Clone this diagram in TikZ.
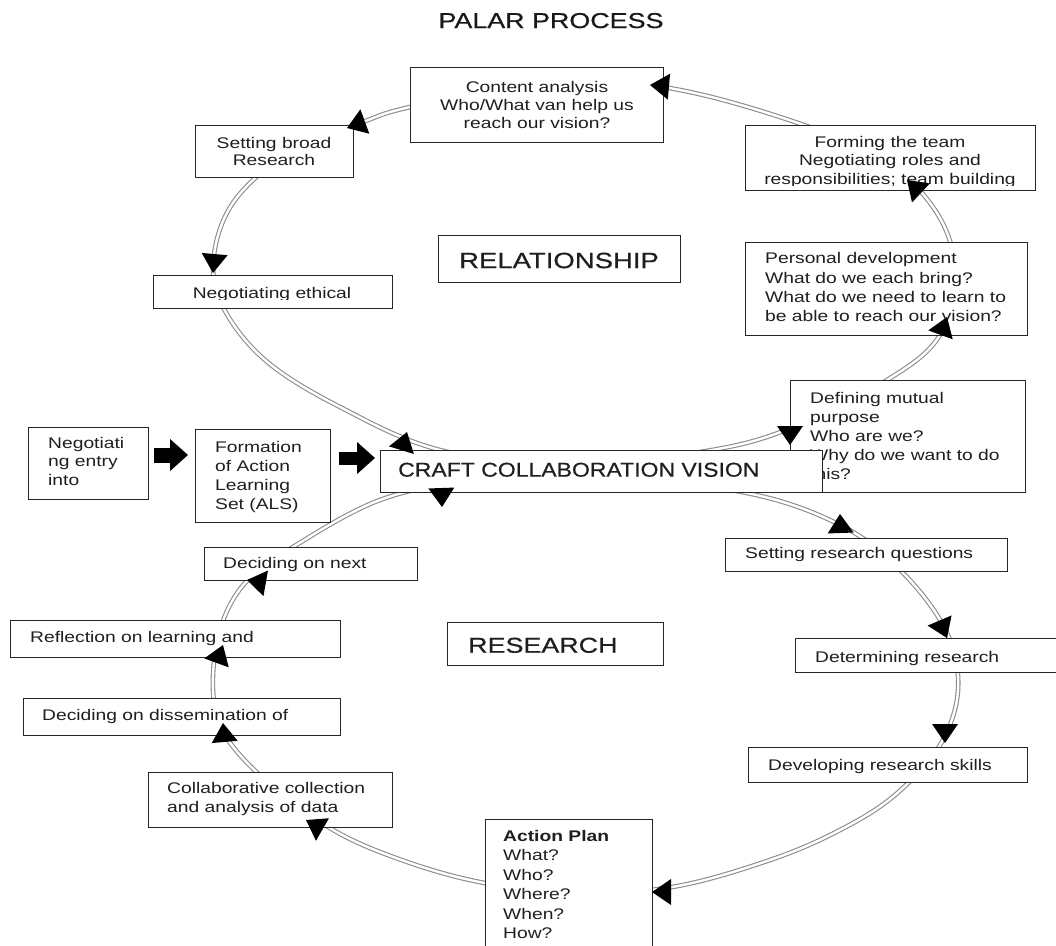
\documentclass[tikz,border=0pt]{standalone}
\usepackage{fontspec}
\setmainfont{Liberation Sans}[FakeStretch=1.25]
\newfontfamily\labelfont{Liberation Sans}[FakeStretch=1.25, FakeBold=0.6]
\newfontfamily\craftfont{Liberation Sans}[FakeStretch=1.15, FakeBold=0.5]
\usetikzlibrary{arrows.meta,calc}

\tikzset{
  ring/.style={draw=black!45, line width=1.1pt, double=white, double distance=2.4pt},
  box/.style={draw=black!85, line width=1.4pt, fill=white, inner sep=0pt},
  txt/.style={inner sep=0pt, text=black!88, align=left, font=\fontsize{15.4}{19}\selectfont},
  bigarrow/.style={draw=black, -{Triangle[length=18pt,width=31pt]}},
}

% box from (x1,y1) to (x2,y2) with its text clipped at height #9
% #1 name, #2 x1, #3 y1, #4 x2, #5 y2, #6 text options, #7 text position, #8 text, #9 clip bottom
\newcommand\pbx[9]{%
  \node[box, anchor=north west, minimum width=#4-#2, minimum height=#5-#3] (#1) at (#2,#3) {};
  \begin{scope}
    \clip (#2,#3) rectangle (#4,#9);
    \node[txt, #6] (#1-t) at (#7) {#8};
  \end{scope}}

% filled triangular arrowhead: tip point and pointing angle
\newcommand\arrowtri[3]{%
  \fill[black] (#1,#2) -- ++({-19*cos(#3)+13*sin(#3)},{-19*sin(#3)-13*cos(#3)})
    -- ++({-26*sin(#3)},{26*cos(#3)}) -- cycle;}

\begin{document}
\begin{tikzpicture}[x=1pt,y=-1pt]
\clip (0,0) rectangle (1056,945);
\fill[white] (0,0) rectangle (1056,945);

\node[font=\labelfont\fontsize{21.5}{24}\selectfont, text=black!90, anchor=base, inner sep=0pt] (title) at (551,28) {PALAR PROCESS};

% the two cycles
\draw[ring] plot[smooth cycle, tension=0.6] coordinates {
  (410,107) (540,80) (663,87) (783,118) (880,158) (935,210) (955,270) (940,335)
  (887,380) (786,430) (700,452) (570,465) (440,450) (340,407) (265,360) (222,305)
  (214,255) (235,200) (290,152) (363,122)};
\draw[ring] plot[smooth cycle, tension=0.6] coordinates {
  (470,482) (600,478) (747,493) (844,527) (905,575) (947,633) (958,690) (940,745)
  (895,795) (840,830) (770,860) (672,887) (570,893) (470,880) (380,852) (320,822)
  (265,780) (225,735) (213,690) (220,630) (245,583) (293,547) (380,500)};

% relationship cycle
\pbx{content}{410}{67}{663}{142}{anchor=north, align=center, font=\fontsize{15.4}{18}\selectfont}{537,81}{Content analysis\\Who/What van help us\\reach our vision?}{142}
\pbx{broad}{195}{125}{353}{177}{anchor=north, align=center, font=\fontsize{15.4}{17}\selectfont}{274,137}{Setting broad\\Research}{177}
\pbx{team}{745}{125}{1035}{190}{anchor=north, align=center, font=\fontsize{15.4}{18.5}\selectfont}{890,136}{Forming the team\\Negotiating roles and\\responsibilities; team building}{185.3}
\pbx{personal}{745}{242}{1027}{335}{anchor=north west, font=\fontsize{15.4}{19.3}\selectfont}{765,252.5}{Personal development\\What do we each bring?\\What do we need to learn to\\be able to reach our vision?}{335}
\pbx{ethical}{153}{275}{392}{308}{anchor=north, align=center}{272,287}{Negotiating ethical}{299.3}
\pbx{purpose}{790}{380}{1025}{492}{anchor=north west}{810,392}{Defining mutual\\purpose\\Who are we?\\Why do we want to do\\this?}{492}
\pbx{relation}{438}{235}{680}{282}{anchor=north, font=\labelfont\fontsize{22}{26}\selectfont}{559,252.5}{RELATIONSHIP}{282}

% entry
\pbx{entry}{28}{427}{148}{499}{anchor=north west, font=\fontsize{15.4}{18.5}\selectfont}{48,437}{Negotiati\\ng entry\\into}{499}
\pbx{als}{195}{429}{330}{522}{anchor=north west}{215,441}{Formation\\of Action\\Learning\\Set (ALS)}{522}
\pbx{craft}{380}{450}{822}{492}{anchor=north west, font=\craftfont\fontsize{20}{24}\selectfont}{398,462.5}{CRAFT COLLABORATION VISION}{492}

% research cycle
\pbx{questions}{725}{538}{1007}{571}{anchor=north west}{745,547}{Setting research questions}{571}
\pbx{determine}{795}{638}{1062}{672}{anchor=north west}{815,651}{Determining research}{672}
\pbx{skills}{748}{747}{1027}{782}{anchor=north west}{768,759}{Developing research skills}{782}
\pbx{plan}{485}{819}{652}{952}{anchor=north west, font=\fontsize{15.4}{19.5}\selectfont}{503,830}{\textbf{Action Plan}\\What?\\Who?\\Where?\\When?\\How?}{952}
\pbx{data}{148}{772}{392}{827}{anchor=north west}{167,782}{Collaborative collection\\and analysis of data}{827}
\pbx{dissem}{23}{698}{340}{735}{anchor=north west}{42,709}{Deciding on dissemination of}{735}
\pbx{reflect}{10}{620}{340}{657}{anchor=north west}{30,631}{Reflection on learning and}{657}
\pbx{next}{204}{547}{417}{580}{anchor=north west}{223,557}{Deciding on next}{580}
\pbx{research}{447}{622}{663}{665}{anchor=north west, font=\labelfont\fontsize{21.5}{25}\selectfont}{468,637.5}{RESEARCH}{665}

% arrowheads on the cycles
\arrowtri{650}{85}{185}
\arrowtri{347}{128}{160}
\arrowtri{213}{273}{95}
\arrowtri{407}{432}{287}
\arrowtri{790}{445}{90}
\arrowtri{947}{317}{290}
\arrowtri{907}{180}{223}
\arrowtri{442}{507}{88}
\arrowtri{840}{514}{268}
\arrowtri{947}{638}{67}
\arrowtri{945}{743}{90}
\arrowtri{652}{892}{180}
\arrowtri{306}{820}{210}
\arrowtri{223}{723}{265}
\arrowtri{223}{645}{290}
\arrowtri{247}{580}{190}

% block arrows into the vision
\draw[bigarrow, line width=15pt, shorten <=5pt, shorten >=7pt] (entry.east |- 0,455) -- (als.west |- 0,455);
\draw[bigarrow, line width=13pt, shorten <=8pt, shorten >=5pt] (als.east |- 0,458) -- (craft.west |- 0,458);
\end{tikzpicture}
\end{document}
